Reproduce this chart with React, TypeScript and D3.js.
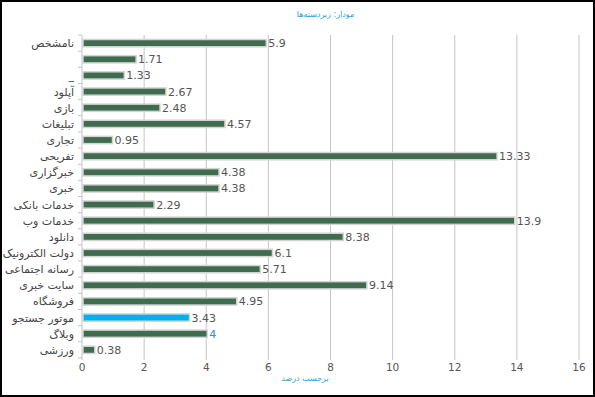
import React from 'react';
import * as d3 from 'd3';

const categories = [
  'نامشخص', '', '_', 'آپلود', 'بازی', 'تبلیغات', 'تجاری', 'تفریحی', 'خبرگزاری', 'خبری',
  'خدمات بانکی', 'خدمات وب', 'دانلود', 'دولت الکترونیک', 'رسانه اجتماعی', 'سایت خبری',
  'فروشگاه', 'موتور جستجو', 'وبلاگ', 'ورزشی',
];
const values = [5.9, 1.71, 1.33, 2.67, 2.48, 4.57, 0.95, 13.33, 4.38, 4.38, 2.29, 13.9, 8.38, 6.1, 5.71, 9.14, 4.95, 3.43, 4, 0.38];
const xTicks = [0, 2, 4, 6, 8, 10, 12, 14, 16];
const highlighted = 'موتور جستجو';

const W = 595;
const H = 397;
const margin = { top: 35, right: 16, bottom: 39, left: 82 };
const font = '"DejaVu Sans", Tahoma, sans-serif';

const App: React.FC = () => {
  const x = d3.scaleLinear().domain([0, 16]).range([margin.left, W - margin.right]);
  const y = d3.scaleBand<number>()
    .domain(d3.range(categories.length))
    .range([margin.top, H - margin.bottom])
    .paddingInner(0.55)
    .paddingOuter(0.28);
  const step = y.step();

  return (
    <div style={{ position: 'absolute', left: 0, top: 0 }}>
      <svg width={W} height={H} style={{ display: 'block' }}>
        <rect x={0} y={0} width={W} height={H} fill="#fff" />
        <rect x={1} y={1} width={W - 2} height={H - 2} fill="none" stroke="#000" strokeWidth={2} />
        <text x={W / 2 + 28} y={17} textAnchor="middle" fontSize={8} fill="#1aa3e0" fontFamily={font}>مودار: زیردسته‌ها</text>

        {xTicks.map(t => (
          <g key={t}>
            <line x1={x(t)} x2={x(t)} y1={margin.top} y2={H - margin.bottom + 2} stroke="#c4c4c4" strokeWidth={1} />
            <text x={x(t)} y={371} textAnchor="middle" fontSize={10.5} fill="#555" fontFamily={font}>{t}</text>
          </g>
        ))}

        {d3.range(categories.length + 1).map(i => {
          const yy = margin.top + y.paddingOuter() * step - (y.paddingInner() * step) / 2 + i * step;
          return <line key={i} x1={x(0) - 4} x2={x(0)} y1={yy} y2={yy} stroke="#c4c4c4" />;
        })}

        {values.map((v, i) => {
          const by = y(i) as number;
          const bh = y.bandwidth();
          const hl = categories[i] === highlighted;
          return (
            <g key={i}>
              <rect x={x(0) + 1} y={by} width={x(v) - x(0)} height={bh}
                fill={hl ? '#00b0f0' : '#3f6b4f'} stroke="#d4d4d4" strokeWidth={1.5} />
              <text x={x(v) + 3} y={by + bh / 2 + 4} fontSize={11} fill={v === 4 ? '#3a8fd0' : '#555'} fontFamily={font}>{v}</text>
              <text x={x(0) - 8} y={by + bh / 2 + 4} textAnchor="end" fontSize={11} fill="#444" fontFamily={font}>{categories[i]}</text>
            </g>
          );
        })}

        <text x={305} y={381} textAnchor="middle" fontSize={8} fill="#1aa3e0" fontFamily={font}>برحسب درصد</text>
      </svg>
    </div>
  );
};

export default App;
